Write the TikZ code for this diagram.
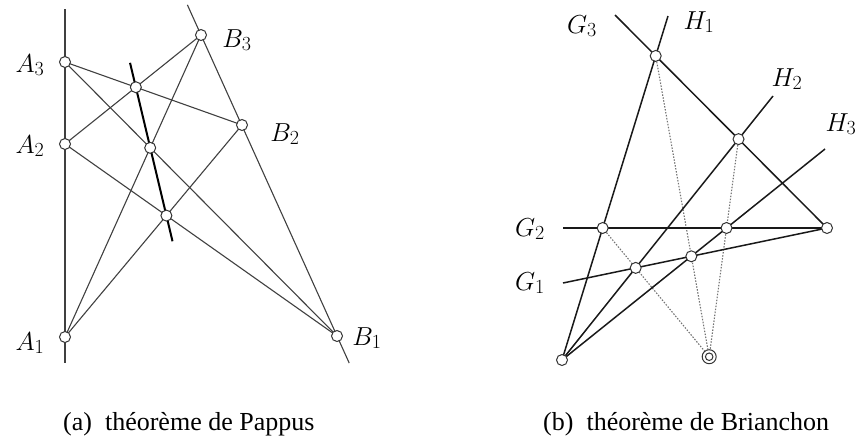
\documentclass[tikz,border=0pt]{standalone}
\usepackage{fix-cm}
\usepackage{fontspec}
\newfontfamily\capfont{Liberation Serif}
\DeclareMathSizes{26}{26}{20}{15}
\usetikzlibrary{calc}
\begin{document}
\begin{tikzpicture}[x=1pt,y=-1pt,
  thinln/.style={draw=black!75,line width=1.1pt},
  pline/.style={draw=black,line width=2pt},
  bline/.style={draw=black!90,line width=1.5pt},
  dotln/.style={draw=black!55,line width=1.1pt,dash pattern=on 1.5pt off 1.5pt},
  pt/.style={circle,draw=black!80,fill=white,line width=1pt,minimum size=11pt,inner sep=0pt},
  lab/.style={font=\fontsize{26}{30}\selectfont,anchor=base,inner sep=0pt},
  captxt/.style={font=\capfont\fontsize{26}{30}\selectfont,anchor=base west,inner sep=0pt}]
\useasboundingbox (0,0) rectangle (862,437);
% ---------- (a) Pappus ----------
\coordinate (A1) at (65,337);
\coordinate (A2) at (65,144);
\coordinate (A3) at (65,62);
\coordinate (B3) at (201,35);
\coordinate (B2) at (242,125);
\coordinate (B1) at (337,336);
\coordinate (Lt) at (65,9);
\coordinate (Lb) at (65,363);
\coordinate (Mt) at ($(B3)!-0.1!(B1)$);
\coordinate (Mb) at ($(B3)!1.09!(B1)$);
\coordinate (P1) at (intersection of A3--B2 and A2--B3);
\coordinate (P2) at (intersection of A3--B1 and A1--B3);
\coordinate (P3) at (intersection of A2--B1 and A1--B2);
\coordinate (Pt) at ($(P1)!-0.19!(P3)$);
\coordinate (Pb) at ($(P1)!1.2!(P3)$);
\draw[thinln] (Lt) -- (Lb);
\draw[thinln] (Mt) -- (Mb);
\draw[thinln] (A3) -- (B2);
\draw[thinln] (A3) -- (B1);
\draw[thinln] (A2) -- (B3);
\draw[thinln] (A2) -- (B1);
\draw[thinln] (A1) -- (B3);
\draw[thinln] (A1) -- (B2);
\draw[pline] (Pt) -- (Pb);
\foreach \p in {A1,A2,A3,B1,B2,B3,P1,P2,P3} \node[pt] (n\p) at (\p) {};
\node[lab] (lA3) at (30,72) {$A_3$};
\node[lab] (lA2) at (30,153) {$A_2$};
\node[lab] (lA1) at (30,350) {$A_1$};
\node[lab] (lB3) at (237,47) {$B_3$};
\node[lab] (lB2) at (285,141) {$B_2$};
\node[lab] (lB1) at (367,345) {$B_1$};
% ---------- (b) Brianchon ----------
\coordinate (V) at (562,360);
\coordinate (R) at (827,228);
\coordinate (H1e) at (668,16);
\coordinate (H2e) at (773,96);
\coordinate (H3e) at (825,149);
\coordinate (G3e) at (615,15);
\coordinate (G2e) at (563,228);
\coordinate (G1e) at (563,283);
\coordinate (X31) at (intersection of G3e--R and V--H1e);
\coordinate (X32) at (intersection of G3e--R and V--H2e);
\coordinate (X21) at (intersection of G2e--R and V--H1e);
\coordinate (X23) at (intersection of G2e--R and V--H3e);
\coordinate (X12) at (intersection of G1e--R and V--H2e);
\coordinate (X13) at (intersection of G1e--R and V--H3e);
\coordinate (BP) at (intersection of X31--X13 and X21--X12);
\draw[dotln] (X31) -- (BP);
\draw[dotln] (X32) -- (BP);
\draw[dotln] (X21) -- (BP);
\draw[bline] (G3e) -- (R);
\draw[bline] (G2e) -- (R);
\draw[bline] (G1e) -- (R);
\draw[bline] (V) -- (H1e);
\draw[bline] (V) -- (H2e);
\draw[bline] (V) -- (H3e);
\foreach \p in {V,R,X31,X32,X21,X23,X12,X13} \node[pt] (n\p) at (\p) {};
\node[pt,minimum size=14pt] (nBP) at (BP) {};
\node[circle,draw=black!80,line width=1pt,minimum size=7.5pt,inner sep=0pt] (nBPi) at (BP) {};
\node[lab] (lG3) at (582,33) {$G_3$};
\node[lab] (lH1) at (699,29) {$H_1$};
\node[lab] (lH2) at (787,86) {$H_2$};
\node[lab] (lH3) at (841,131) {$H_3$};
\node[lab] (lG2) at (530,236) {$G_2$};
\node[lab] (lG1) at (530,290) {$G_1$};
% ---------- captions ----------
\node[captxt] (ca) at (63,430) {(a)\enspace théorème de Pappus};
\node[captxt] (cb) at (543,430) {(b)\enspace théorème de Brianchon};
\end{tikzpicture}
\end{document}
